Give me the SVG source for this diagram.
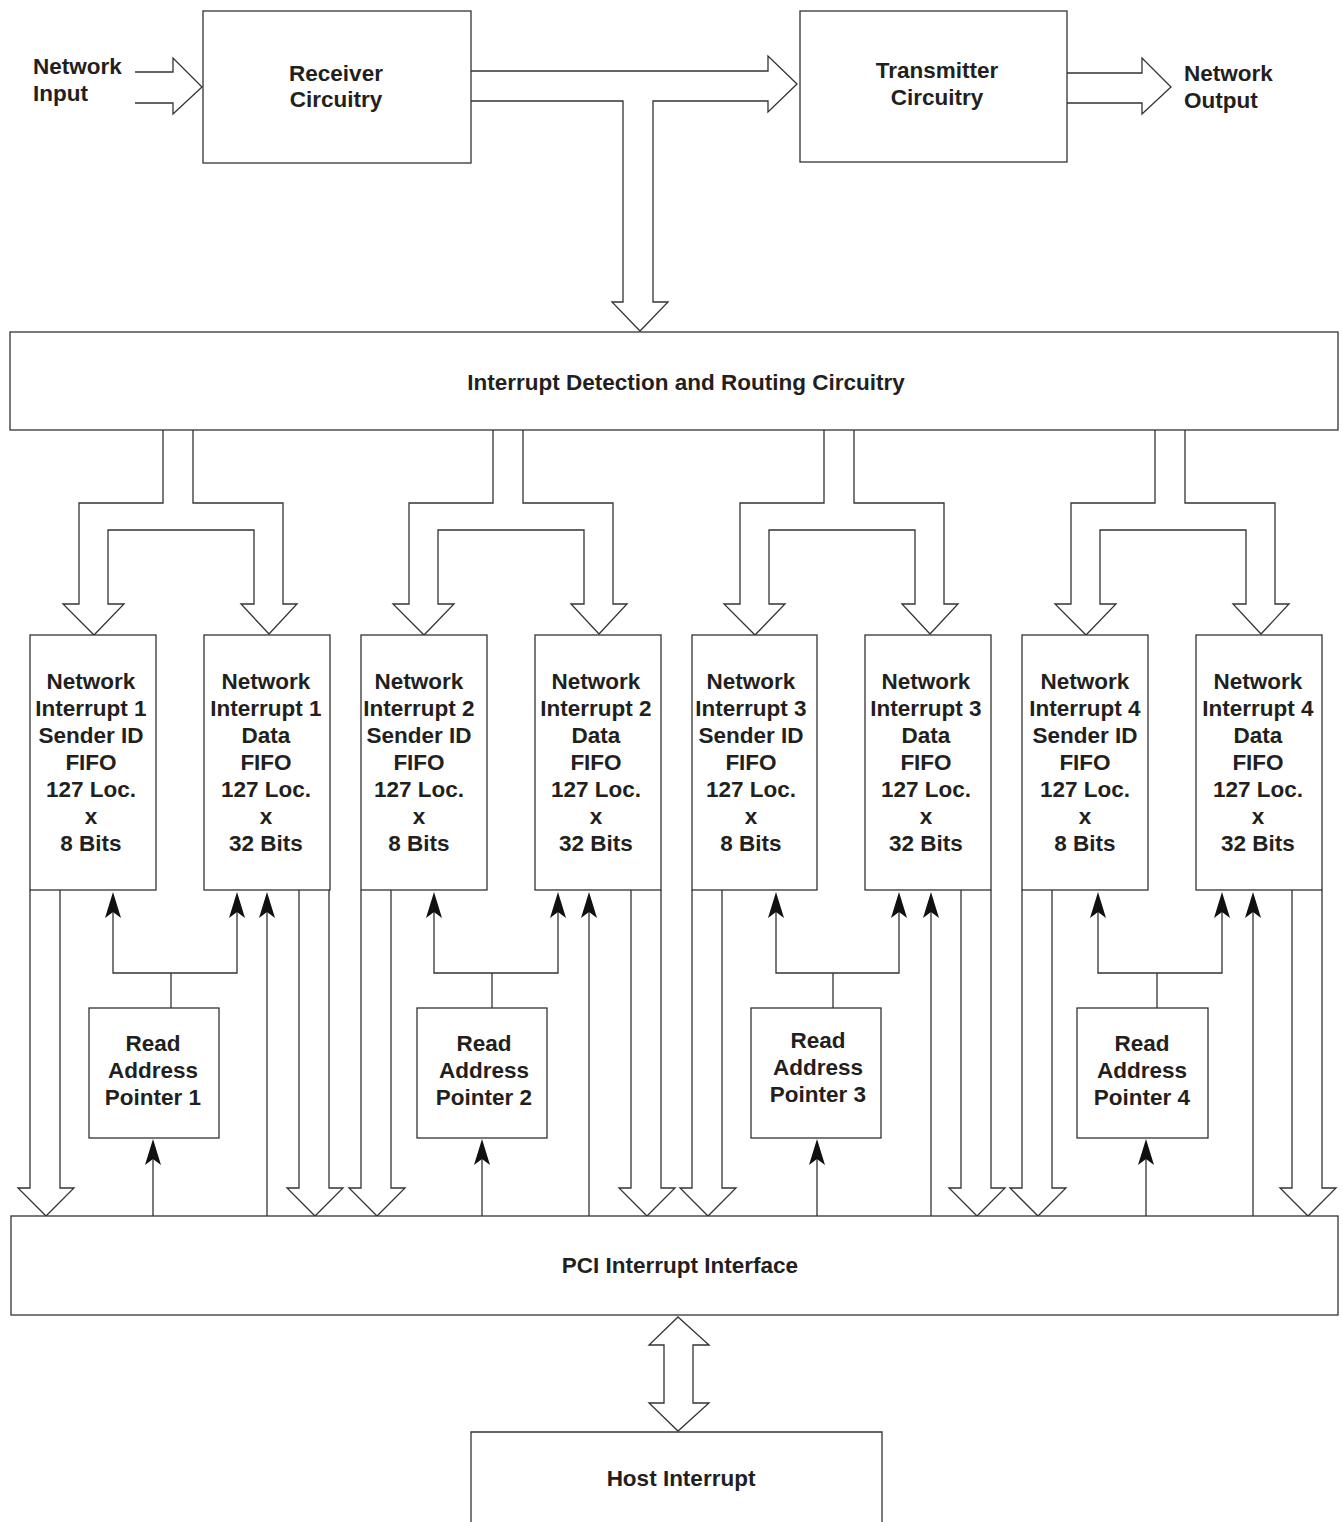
<svg xmlns="http://www.w3.org/2000/svg" xmlns:xlink="http://www.w3.org/1999/xlink" width="1343" height="1522" viewBox="0 0 1343 1522">
<style>
.ln{fill:none;stroke:#333;stroke-width:1.3}
.bx{fill:#fff;stroke:#333;stroke-width:1.3}
.t{font-family:"Liberation Sans",Arial,Helvetica,sans-serif;font-weight:bold;font-size:22.5px;fill:#231f20}
.c{text-anchor:middle}
.ah{fill:#111;stroke:none}
</style>
<defs>
<path id="ah" class="ah" d="M0,0 L-8,26 L0,20 L8,26 Z"/>
<path id="split" class="ln" d="M163,430 V503 H79 V604 H63 L94,635 L124,604 H108 V530 H254 V604 H241 L269,634 L297,604 H283 V503 H193 V430"/>
</defs>
<rect width="1343" height="1522" fill="#fff"/>

<g id="connectors">
<path class="ln" d="M135,72 H173 V58 L202,87 L173,114 V103 H135"/>
<path class="ln" d="M471,71 H768 V56 L797,84 L768,112 V101 H653 V302 H668 L640,331 L612,302 H623 V101 H471"/>
<path class="ln" d="M1067,73 H1142 V58 L1171,87 L1142,114 V103 H1067"/>
<use xlink:href="#split"/>
<use xlink:href="#split" x="330"/>
<use xlink:href="#split" x="661"/>
<use xlink:href="#split" x="992"/>
<path class="ln" d="M30,890 V1188 H18 L46,1216 L74,1188 H60 V890"/>
<path class="ln" d="M361,890 V1188 H349 L377,1216 L405,1188 H391 V890"/>
<path class="ln" d="M692,890 V1188 H680 L708,1216 L736,1188 H722 V890"/>
<path class="ln" d="M1022,890 V1188 H1010 L1038,1216 L1066,1188 H1052 V890"/>
<path class="ln" d="M299,890 V1188 H287 L315,1216 L343,1188 H329 V890"/>
<path class="ln" d="M631,890 V1188 H619 L647,1216 L675,1188 H661 V890"/>
<path class="ln" d="M961,890 V1188 H949 L977,1216 L1005,1188 H991 V890"/>
<path class="ln" d="M1292,890 V1188 H1280 L1308,1216 L1336,1188 H1322 V890"/>
<path class="ln" d="M113,912 V973 H237 V912 M171,973 V1008 M153,1216 V1158 M267,1220 V912"/>
<use xlink:href="#ah" x="113" y="892"/><use xlink:href="#ah" x="237" y="892"/><use xlink:href="#ah" x="267" y="892"/><use xlink:href="#ah" x="153" y="1139"/>
<path class="ln" d="M434,912 V973 H558 V912 M492,973 V1008 M482,1216 V1158 M589,1216 V912"/>
<use xlink:href="#ah" x="434" y="892"/><use xlink:href="#ah" x="558" y="892"/><use xlink:href="#ah" x="589" y="892"/><use xlink:href="#ah" x="482" y="1139"/>
<path class="ln" d="M776,912 V973 H899 V912 M833,973 V1008 M817,1216 V1158 M931,1216 V912"/>
<use xlink:href="#ah" x="776" y="892"/><use xlink:href="#ah" x="899" y="892"/><use xlink:href="#ah" x="931" y="892"/><use xlink:href="#ah" x="817" y="1139"/>
<path class="ln" d="M1098,912 V973 H1222 V912 M1157,973 V1008 M1146,1216 V1158 M1253,1216 V912"/>
<use xlink:href="#ah" x="1098" y="892"/><use xlink:href="#ah" x="1222" y="892"/><use xlink:href="#ah" x="1253" y="892"/><use xlink:href="#ah" x="1146" y="1139"/>
<path class="ln" d="M664,1345 H649 L678,1317 L709,1345 H693 V1403 H709 L678,1431 L649,1403 H664 Z"/>
</g>

<g id="network-input"><text class="t" x="33" y="74">Network</text><text class="t" x="33" y="101">Input</text></g>
<g id="receiver"><rect class="bx" x="203" y="11" width="268" height="152"/><text class="t c" x="336" y="81">Receiver</text><text class="t c" x="336" y="107">Circuitry</text></g>
<g id="transmitter"><rect class="bx" x="800" y="11" width="267" height="151"/><text class="t c" x="937" y="78">Transmitter</text><text class="t c" x="937" y="105">Circuitry</text></g>
<g id="network-output"><text class="t" x="1184" y="81">Network</text><text class="t" x="1184" y="108">Output</text></g>
<g id="interrupt-detection"><rect class="bx" x="10" y="332" width="1328" height="98"/><text class="t c" x="686" y="390">Interrupt Detection and Routing Circuitry</text></g>

<g id="fifo-sender-1"><rect class="bx" x="30" y="635" width="126" height="255"/>
<text class="t c" x="91"><tspan x="91" y="689">Network</tspan><tspan x="91" y="716">Interrupt 1</tspan><tspan x="91" y="743">Sender ID</tspan><tspan x="91" y="770">FIFO</tspan><tspan x="91" y="797">127 Loc.</tspan><tspan x="91" y="824">x</tspan><tspan x="91" y="851">8 Bits</tspan></text></g>
<g id="fifo-data-1"><rect class="bx" x="204" y="635" width="126" height="255"/>
<text class="t c" x="266"><tspan x="266" y="689">Network</tspan><tspan x="266" y="716">Interrupt 1</tspan><tspan x="266" y="743">Data</tspan><tspan x="266" y="770">FIFO</tspan><tspan x="266" y="797">127 Loc.</tspan><tspan x="266" y="824">x</tspan><tspan x="266" y="851">32 Bits</tspan></text></g>
<g id="fifo-sender-2"><rect class="bx" x="361" y="635" width="126" height="255"/>
<text class="t c" x="419"><tspan x="419" y="689">Network</tspan><tspan x="419" y="716">Interrupt 2</tspan><tspan x="419" y="743">Sender ID</tspan><tspan x="419" y="770">FIFO</tspan><tspan x="419" y="797">127 Loc.</tspan><tspan x="419" y="824">x</tspan><tspan x="419" y="851">8 Bits</tspan></text></g>
<g id="fifo-data-2"><rect class="bx" x="535" y="635" width="126" height="255"/>
<text class="t c" x="596"><tspan x="596" y="689">Network</tspan><tspan x="596" y="716">Interrupt 2</tspan><tspan x="596" y="743">Data</tspan><tspan x="596" y="770">FIFO</tspan><tspan x="596" y="797">127 Loc.</tspan><tspan x="596" y="824">x</tspan><tspan x="596" y="851">32 Bits</tspan></text></g>
<g id="fifo-sender-3"><rect class="bx" x="692" y="635" width="125" height="255"/>
<text class="t c" x="751"><tspan x="751" y="689">Network</tspan><tspan x="751" y="716">Interrupt 3</tspan><tspan x="751" y="743">Sender ID</tspan><tspan x="751" y="770">FIFO</tspan><tspan x="751" y="797">127 Loc.</tspan><tspan x="751" y="824">x</tspan><tspan x="751" y="851">8 Bits</tspan></text></g>
<g id="fifo-data-3"><rect class="bx" x="865" y="635" width="126" height="255"/>
<text class="t c" x="926"><tspan x="926" y="689">Network</tspan><tspan x="926" y="716">Interrupt 3</tspan><tspan x="926" y="743">Data</tspan><tspan x="926" y="770">FIFO</tspan><tspan x="926" y="797">127 Loc.</tspan><tspan x="926" y="824">x</tspan><tspan x="926" y="851">32 Bits</tspan></text></g>
<g id="fifo-sender-4"><rect class="bx" x="1022" y="635" width="126" height="255"/>
<text class="t c" x="1085"><tspan x="1085" y="689">Network</tspan><tspan x="1085" y="716">Interrupt 4</tspan><tspan x="1085" y="743">Sender ID</tspan><tspan x="1085" y="770">FIFO</tspan><tspan x="1085" y="797">127 Loc.</tspan><tspan x="1085" y="824">x</tspan><tspan x="1085" y="851">8 Bits</tspan></text></g>
<g id="fifo-data-4"><rect class="bx" x="1196" y="635" width="126" height="255"/>
<text class="t c" x="1258"><tspan x="1258" y="689">Network</tspan><tspan x="1258" y="716">Interrupt 4</tspan><tspan x="1258" y="743">Data</tspan><tspan x="1258" y="770">FIFO</tspan><tspan x="1258" y="797">127 Loc.</tspan><tspan x="1258" y="824">x</tspan><tspan x="1258" y="851">32 Bits</tspan></text></g>

<g id="read-pointer-1"><rect class="bx" x="89" y="1008" width="130" height="130"/><text class="t c"><tspan x="153" y="1051">Read</tspan><tspan x="153" y="1078">Address</tspan><tspan x="153" y="1105">Pointer 1</tspan></text></g>
<g id="read-pointer-2"><rect class="bx" x="417" y="1008" width="130" height="130"/><text class="t c"><tspan x="484" y="1051">Read</tspan><tspan x="484" y="1078">Address</tspan><tspan x="484" y="1105">Pointer 2</tspan></text></g>
<g id="read-pointer-3"><rect class="bx" x="751" y="1008" width="130" height="130"/><text class="t c"><tspan x="818" y="1048">Read</tspan><tspan x="818" y="1075">Address</tspan><tspan x="818" y="1102">Pointer 3</tspan></text></g>
<g id="read-pointer-4"><rect class="bx" x="1077" y="1008" width="131" height="130"/><text class="t c"><tspan x="1142" y="1051">Read</tspan><tspan x="1142" y="1078">Address</tspan><tspan x="1142" y="1105">Pointer 4</tspan></text></g>

<g id="pci-interface"><rect class="bx" x="11" y="1216" width="1327" height="99"/><text class="t c" x="680" y="1273">PCI Interrupt Interface</text></g>
<g id="host-interrupt"><path class="ln" d="M471,1523 V1432 H882 V1523"/><text class="t c" x="681" y="1486">Host Interrupt</text></g>
</svg>
